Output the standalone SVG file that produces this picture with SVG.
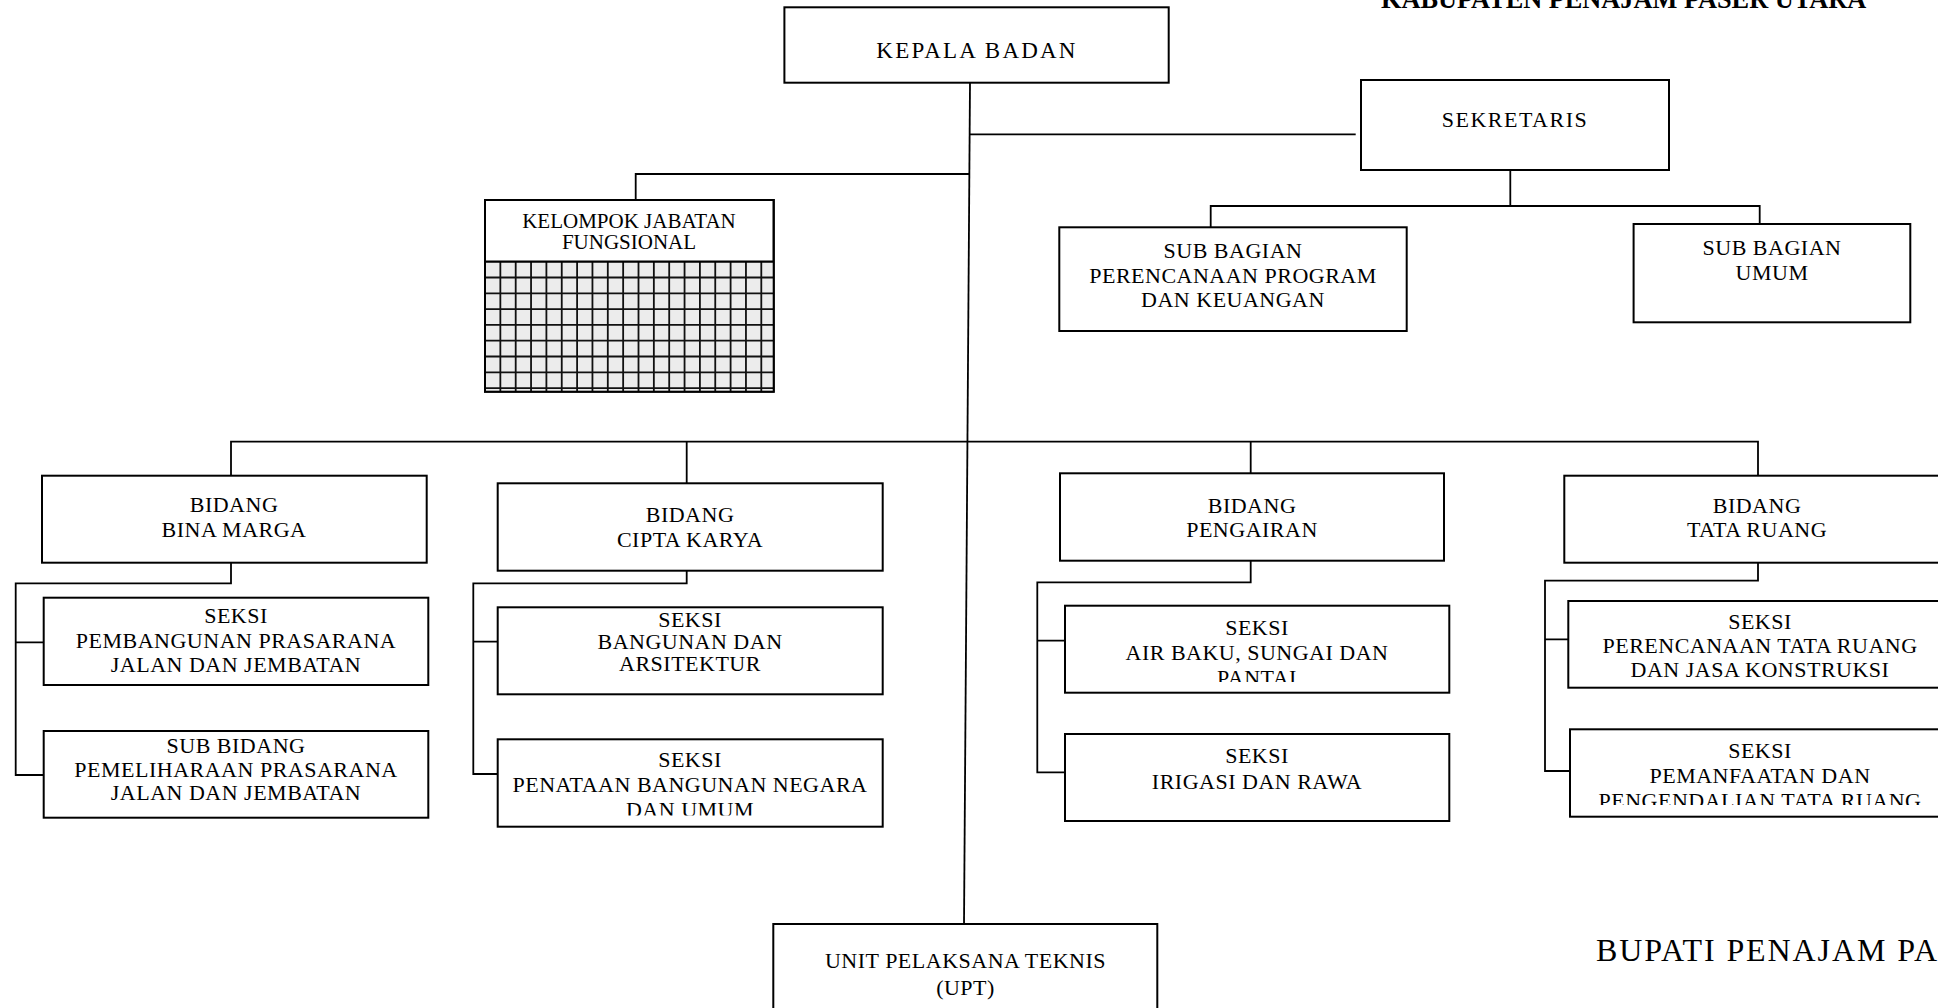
<svg xmlns="http://www.w3.org/2000/svg" width="1938" height="1008" viewBox="0 0 1938 1008">
<style>
.box{fill:#fff;stroke:#000;stroke-width:2}
.ln{fill:none;stroke:#000;stroke-width:1.8}
.grid{fill:none;stroke:#111;stroke-width:1.8}
text{font-family:"Liberation Serif","Times New Roman",serif;font-size:22px;text-anchor:middle;fill:#000;letter-spacing:0.5px}
.big{font-size:23px;letter-spacing:2.2px}
.sm{font-size:21px;letter-spacing:0px}
</style>
<defs>
<clipPath id="c1"><rect x="497" y="739" width="386" height="76.5"/></clipPath>
<clipPath id="c2"><rect x="1065" y="605" width="385" height="77"/></clipPath>
<clipPath id="c3"><rect x="1570" y="729" width="390" height="76"/></clipPath>
</defs>
<rect width="1938" height="1008" fill="#fff"/>
<g id="connectors">
<path class="ln" d="M970 82.7 L964 924"/>
<path class="ln" d="M970 134.3 H1355.7"/>
<path class="ln" d="M970 174 H635.7 V200"/>
<path class="ln" d="M1510.3 170 V206"/>
<path class="ln" d="M1210.7 227.3 V206 H1759.7 V224"/>
<path class="ln" d="M231 475.7 V441.7 H1758 V475.7"/>
<path class="ln" d="M686.7 441.7 V483.3"/>
<path class="ln" d="M1250.7 441.7 V473.3"/>
<path class="ln" d="M231 562.7 V583.3 H15.7 V775 H43.7 M15.7 642.3 H43.7"/>
<path class="ln" d="M686.7 570.7 V583.3 H473.3 V774 H497.7 M473.3 641.7 H497.7"/>
<path class="ln" d="M1250.7 560.7 V582.3 H1037.3 V772.3 H1065 M1037.3 640.7 H1065"/>
<path class="ln" d="M1758 562.7 V580.7 H1545 V771 H1570 M1545 639.3 H1568.3"/>
</g>
<g id="heading">
<text x="1381" y="8" style="font-size:26.3px;font-weight:bold;text-anchor:start;letter-spacing:0px">KABUPATEN PENAJAM PASER UTARA</text>
</g>
<g id="kepala">
<rect class="box" x="784.4" y="7.3" width="384.3" height="75.4"/>
<text class="big" x="977" y="58.3">KEPALA BADAN</text>
</g>
<g id="sekretaris">
<rect class="box" x="1361" y="80" width="308" height="90"/>
<text x="1515" y="126.7" style="letter-spacing:1.5px">SEKRETARIS</text>
</g>
<g id="subbag-program">
<rect class="box" x="1059.3" y="227.3" width="347.4" height="103.7"/>
<text x="1233" y="258">SUB BAGIAN</text>
<text x="1233" y="283">PERENCANAAN PROGRAM</text>
<text x="1233" y="307">DAN KEUANGAN</text>
</g>
<g id="subbag-umum">
<rect class="box" x="1633.6" y="224" width="276.7" height="98.3"/>
<text x="1772" y="255">SUB BAGIAN</text>
<text x="1772" y="280">UMUM</text>
</g>
<g id="kelompok">
<rect class="box" x="485" y="200" width="288.7" height="191.7"/>
<rect x="485" y="261.7" width="288.7" height="130" fill="#ececec"/>
<path class="grid" d="M500.35 261.7V391.7M515.7 261.7V391.7M531.05 261.7V391.7M546.4 261.7V391.7M561.75 261.7V391.7M577.1 261.7V391.7M592.45 261.7V391.7M607.8 261.7V391.7M623.15 261.7V391.7M638.5 261.7V391.7M653.85 261.7V391.7M669.2 261.7V391.7M684.55 261.7V391.7M699.9 261.7V391.7M715.25 261.7V391.7M730.6 261.7V391.7M745.95 261.7V391.7M761.3 261.7V391.7M485 277.5H773.7M485 293.3H773.7M485 309.1H773.7M485 324.9H773.7M485 340.7H773.7M485 356.5H773.7M485 372.3H773.7M485 388.1H773.7"/>
<path d="M485 261.7H773.7" stroke="#000" stroke-width="2.2"/>
<rect x="485" y="200" width="288.7" height="191.7" fill="none" stroke="#000" stroke-width="2"/>
<text class="sm" x="629" y="228.3">KELOMPOK JABATAN</text>
<text class="sm" x="629" y="249">FUNGSIONAL</text>
</g>
<g id="bidang-bina-marga">
<rect class="box" x="42" y="475.7" width="384.7" height="87"/>
<text x="234" y="511.7">BIDANG</text>
<text x="234" y="536.7">BINA MARGA</text>
</g>
<g id="seksi-pembangunan">
<rect class="box" x="43.7" y="597.7" width="384.6" height="87.3"/>
<text x="236" y="623.3">SEKSI</text>
<text x="236" y="648.3">PEMBANGUNAN PRASARANA</text>
<text x="236" y="672.3">JALAN DAN JEMBATAN</text>
</g>
<g id="subbidang-pemeliharaan">
<rect class="box" x="43.7" y="731" width="384.6" height="86.7"/>
<text x="236" y="753.3">SUB BIDANG</text>
<text x="236" y="776.7">PEMELIHARAAN PRASARANA</text>
<text x="236" y="800">JALAN DAN JEMBATAN</text>
</g>
<g id="bidang-cipta-karya">
<rect class="box" x="497.7" y="483.3" width="385" height="87.4"/>
<text x="690" y="521.7">BIDANG</text>
<text x="690" y="546.7">CIPTA KARYA</text>
</g>
<g id="seksi-bangunan">
<rect class="box" x="497.7" y="607.3" width="385" height="87"/>
<text x="690" y="627.3">SEKSI</text>
<text x="690" y="649.3">BANGUNAN DAN</text>
<text x="690" y="670.5">ARSITEKTUR</text>
</g>
<g id="seksi-penataan">
<rect class="box" x="497.7" y="739.3" width="385" height="87.4"/>
<text x="690" y="767.3">SEKSI</text>
<text x="690" y="791.7">PENATAAN BANGUNAN NEGARA</text>
<text x="690" y="817" clip-path="url(#c1)">DAN UMUM</text>
</g>
<g id="bidang-pengairan">
<rect class="box" x="1060" y="473.3" width="384" height="87.4"/>
<text x="1252" y="512.7">BIDANG</text>
<text x="1252" y="536.7">PENGAIRAN</text>
</g>
<g id="seksi-air-baku">
<rect class="box" x="1065" y="605.7" width="384.3" height="87"/>
<text x="1257" y="635">SEKSI</text>
<text x="1257" y="660">AIR BAKU, SUNGAI DAN</text>
<text x="1257" y="685" clip-path="url(#c2)">PANTAI</text>
</g>
<g id="seksi-irigasi">
<rect class="box" x="1065" y="734" width="384.3" height="87"/>
<text x="1257" y="763.3">SEKSI</text>
<text x="1257" y="789.3">IRIGASI DAN RAWA</text>
</g>
<g id="bidang-tata-ruang">
<rect class="box" x="1564.3" y="475.7" width="390" height="87"/>
<text x="1757" y="512.7">BIDANG</text>
<text x="1757" y="536.7">TATA RUANG</text>
</g>
<g id="seksi-perencanaan-tata-ruang">
<rect class="box" x="1568.3" y="601" width="390" height="86.7"/>
<text x="1760" y="629.3">SEKSI</text>
<text x="1760" y="653.3">PERENCANAAN TATA RUANG</text>
<text x="1760" y="677.3">DAN JASA KONSTRUKSI</text>
</g>
<g id="seksi-pemanfaatan">
<rect class="box" x="1570" y="729.3" width="390" height="87.4"/>
<text x="1760" y="758.3">SEKSI</text>
<text x="1760" y="782.7">PEMANFAATAN DAN</text>
<text x="1760" y="807.5" clip-path="url(#c3)">PENGENDALIAN TATA RUANG</text>
</g>
<g id="upt">
<rect class="box" x="773.3" y="924" width="384" height="100"/>
<text x="965.5" y="968.3">UNIT PELAKSANA TEKNIS</text>
<text x="965.5" y="995">(UPT)</text>
</g>
<g id="bupati">
<text x="1596" y="961" style="font-size:32px;letter-spacing:1.9px;text-anchor:start">BUPATI PENAJAM PA</text>
</g>
</svg>
